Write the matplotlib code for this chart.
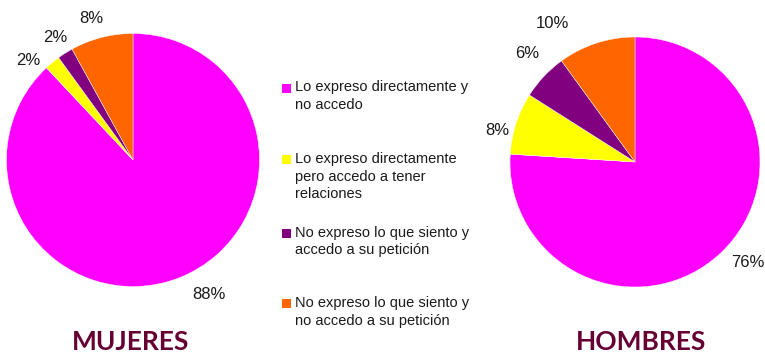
import matplotlib.pyplot as plt
from matplotlib.patches import Rectangle
import numpy as np

# respuestas y porcentajes
categorias = [
    "Lo expreso directamente y\nno accedo",
    "Lo expreso directamente\npero accedo a tener\nrelaciones",
    "No expreso lo que siento y\naccedo a su petición",
    "No expreso lo que siento y\nno accedo a su petición",
]
mujeres = [88, 2, 2, 8]
hombres = [76, 8, 6, 10]
grupos = ["MUJERES", "HOMBRES"]

colores = ["#FF00FF", "#FFFF00", "#800080", "#FF6600"]
color_titulo = "#660033"

plt.rcParams['font.family'] = ['Liberation Sans', 'DejaVu Sans']

W, H = 765, 355
fig = plt.figure(figsize=(W / 100, H / 100), dpi=100)


def px_axes(cx, cy, r):
    # ejes cuadrados a partir del centro y radio en pixeles
    return fig.add_axes([(cx - r) / W, (H - cy - r) / H, 2 * r / W, 2 * r / H])


# desplazamiento angular y distancia de cada etiqueta (ajuste manual)
ajustes = {
    "MUJERES": ([8, 7, 0, 2], [1.22, 1.14, 1.15, 1.17]),
    "HOMBRES": ([5, 5, -2, 13], [1.21, 1.13, 1.22, 1.29]),
}

# centro, radio del pastel y x del titulo (pixeles)
pies = [(mujeres, (133, 160, 126.5, 131)), (hombres, (635, 162, 125, 641))]
for nombre, (valores, (cx, cy, r, tx)) in zip(grupos, pies):
    ax = px_axes(cx, cy, r)
    wedges, _ = ax.pie(valores, colors=colores, startangle=90, counterclock=False,
                       radius=1, wedgeprops=dict(edgecolor='white', linewidth=0.3))
    ax.set_xlim(-1, 1)
    ax.set_ylim(-1, 1)
    ax.set_aspect('equal')
    ax.axis('off')
    offs, dists = ajustes[nombre]
    for w, v, o, d in zip(wedges, valores, offs, dists):
        ang = np.radians((w.theta1 + w.theta2) / 2 + o)
        ax.text(d * np.cos(ang), d * np.sin(ang), f"{v}%", ha='center', va='center',
                fontsize=12, color='#1a1a1a', clip_on=False)
    fig.text(tx / W, 1 - 342 / H, nombre, ha='center', va='center',
             fontsize=19, fontweight='bold', color=color_titulo, family='Lato')

# leyenda central
ys = [88, 159.5, 233, 303.5]
for lab, col, y in zip(categorias, colores, ys):
    fig.patches.append(Rectangle((282 / W, 1 - (y + 4.5) / H), 9 / W, 9 / H,
                                 transform=fig.transFigure, facecolor=col,
                                 edgecolor='none'))
    fig.text(295 / W, 1 - (y - 7.5) / H, lab, ha='left', va='top', fontsize=10.5,
             color='#1a1a1a', linespacing=1.32)

fig.savefig('out.png', dpi=100, facecolor='white')
